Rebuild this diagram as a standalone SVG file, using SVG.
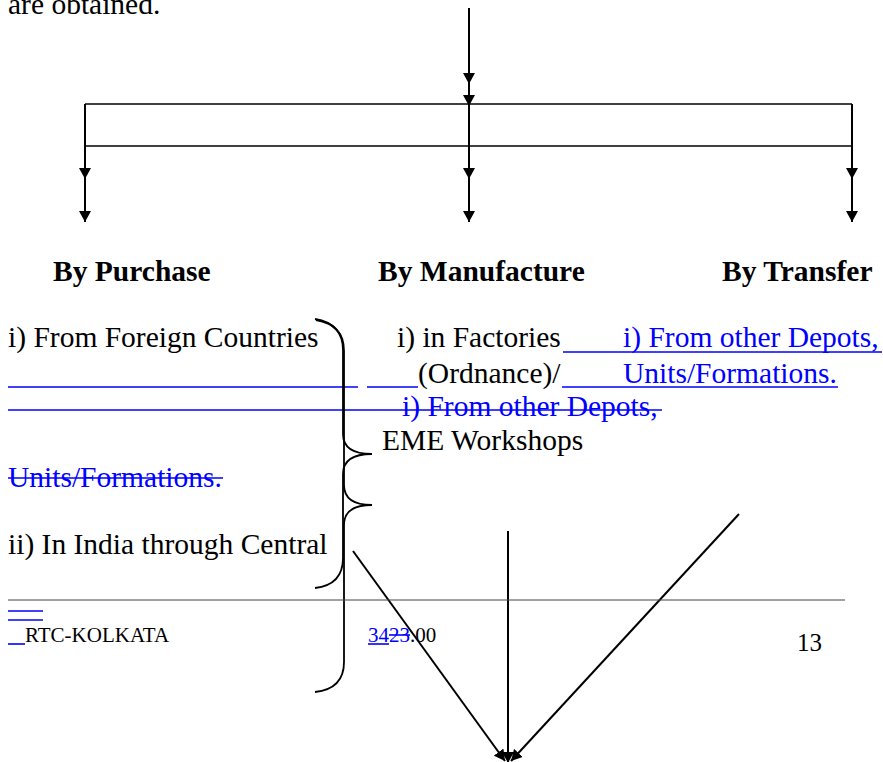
<svg xmlns="http://www.w3.org/2000/svg" width="883" height="762" viewBox="0 0 883 762">
  <style>
    .t { font-family: "Liberation Serif", "Times New Roman", serif; font-size: 29.5px; fill: #000; }
    .b { font-weight: bold; }
    .blue { fill: #0000ff; }
    .sm { font-size: 21px; }
    .ln { stroke: #000; stroke-width: 2; fill: none; }
    .hl { stroke: #000; stroke-width: 1.5; fill: none; }
    .bl { stroke: #0000ff; stroke-width: 1.6; fill: none; }
    .brace { stroke: #000; stroke-width: 1.8; fill: none; }
  </style>
  <defs>
    <marker id="ah" viewBox="0 0 11 12" refX="11" refY="6" markerWidth="11" markerHeight="12" markerUnits="userSpaceOnUse" orient="auto">
      <path d="M0,0 L11,6 L0,12 z" fill="#000"/>
    </marker>
  </defs>

  <rect width="883" height="762" fill="#fff"/>

  <!-- running text above the chart -->
  <text class="t" x="8" y="14">are obtained.</text>

  <!-- distribution connectors -->
  <g id="connectors">
    <line class="ln" x1="469" y1="8" x2="469" y2="84" marker-end="url(#ah)"/>
    <line class="ln" x1="469" y1="84" x2="469" y2="106" marker-end="url(#ah)"/>
    <line class="hl" x1="85" y1="104" x2="852" y2="104"/>
    <line class="hl" x1="85" y1="146" x2="852" y2="146"/>
    <line class="ln" x1="85" y1="104" x2="85" y2="179" marker-end="url(#ah)"/>
    <line class="ln" x1="85" y1="179" x2="85" y2="222" marker-end="url(#ah)"/>
    <line class="ln" x1="469" y1="104" x2="469" y2="179" marker-end="url(#ah)"/>
    <line class="ln" x1="469" y1="179" x2="469" y2="222" marker-end="url(#ah)"/>
    <line class="ln" x1="852" y1="104" x2="852" y2="179" marker-end="url(#ah)"/>
    <line class="ln" x1="852" y1="179" x2="852" y2="222" marker-end="url(#ah)"/>
    <!-- converging arrows at the foot -->
    <line class="ln" x1="353" y1="551" x2="505" y2="761" marker-end="url(#ah)"/>
    <line class="ln" x1="508" y1="531" x2="508" y2="763" marker-end="url(#ah)"/>
    <line class="ln" x1="739" y1="514" x2="511" y2="761" marker-end="url(#ah)"/>
  </g>

  <!-- headings -->
  <g id="purchase"><text class="t b" x="53" y="281">By Purchase</text></g>
  <g id="manufacture"><text class="t b" x="378" y="281">By Manufacture</text></g>
  <g id="transfer"><text class="t b" x="722" y="281">By Transfer</text></g>

  <!-- purchase items -->
  <g id="purchase-items">
    <text class="t" x="8" y="347">i) From Foreign Countries</text>
    <line class="bl" x1="8" y1="387" x2="358" y2="387"/>
    <line class="bl" x1="367" y1="387" x2="418" y2="387"/>
    <line class="bl" x1="8" y1="410" x2="662" y2="410"/>
    <text class="t blue" x="8" y="487">Units/Formations.</text>
    <line class="bl" x1="8" y1="478" x2="223" y2="478"/>
    <text class="t" x="8" y="554">ii) In India through Central</text>
  </g>

  <!-- manufacture items -->
  <g id="manufacture-items">
    <text class="t" x="397" y="347">i) in Factories</text>
    <text class="t" x="418" y="383">(Ordnance)/</text>
    <text class="t blue" x="402" y="416">i) From other Depots,</text>
    <text class="t" x="382" y="450">EME Workshops</text>
  </g>

  <!-- transfer items -->
  <g id="transfer-items">
    <line class="bl" x1="563" y1="352" x2="882" y2="352"/>
    <text class="t blue" x="623" y="347">i) From other Depots,</text>
    <line class="bl" x1="562" y1="387" x2="838" y2="387"/>
    <text class="t blue" x="623" y="383">Units/Formations.</text>
  </g>

  <!-- grouping braces -->
  <g id="braces">
    <path class="brace" d="M315,319 C333,322 343,332 343,350 L343,434 C343,447 352,454 372,454 C352,454 343,461 343,474 L343,558 C343,576 333,586 315,588"/>
    <path class="brace" d="M316,320 C334,323 344,333 344,351 L344,485 C344,498 352,505 372,505 C352,505 344,512 344,525 L344,662 C344,680 334,690 315,692"/>
  </g>

  <!-- page footer -->
  <g id="footer">
    <line x1="8" y1="600" x2="845" y2="600" stroke="#444" stroke-width="1"/>
    <line class="bl" x1="8" y1="611" x2="43" y2="611" stroke-width="1"/>
    <line class="bl" x1="8" y1="620" x2="43" y2="620" stroke-width="1"/>
    <line class="bl" x1="8" y1="644" x2="25" y2="644" stroke-width="2"/>
    <text class="t sm" x="25" y="642">RTC-KOLKATA</text>
    <text class="t sm" x="368" y="642"><tspan class="blue">34</tspan><tspan class="blue">23</tspan>.00</text>
    <line class="bl" x1="368" y1="644" x2="389" y2="644" stroke-width="1.5"/>
    <line class="bl" x1="389" y1="635" x2="410" y2="635" stroke-width="1.5"/>
    <text class="t" x="797" y="651" style="font-size:25px">13</text>
  </g>
</svg>
